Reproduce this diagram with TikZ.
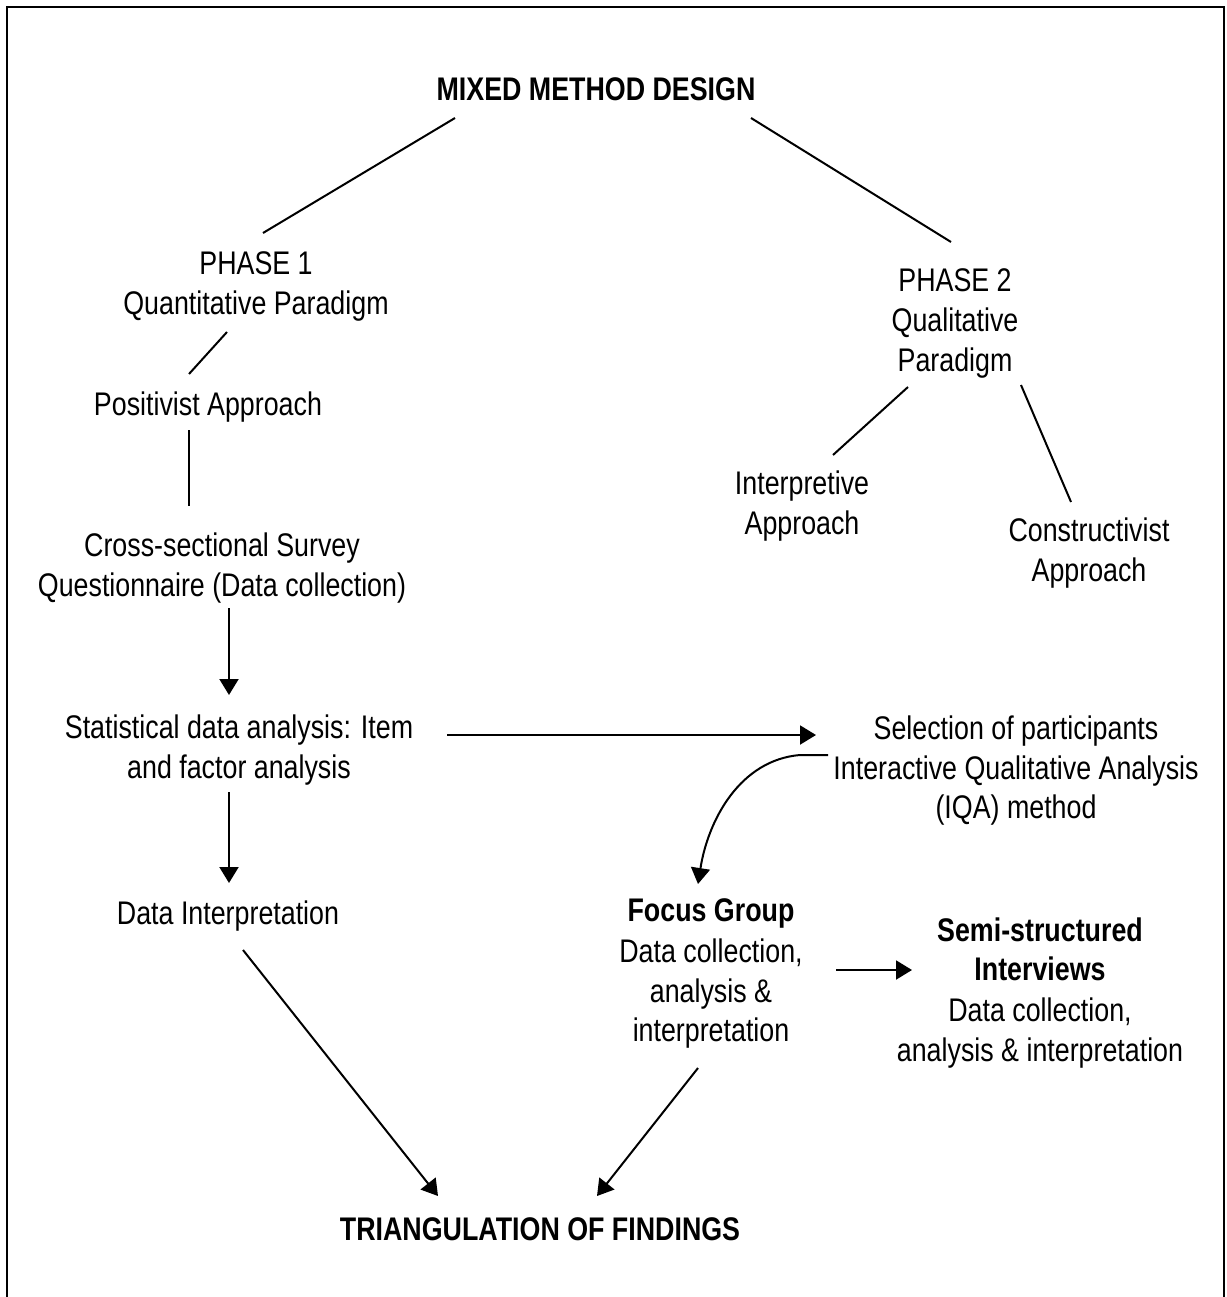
\documentclass[tikz,border=0pt]{standalone}
\usepackage{fontspec}
\setmainfont{Liberation Sans}[FakeStretch=0.82]
\usetikzlibrary{arrows.meta}
\begin{document}
\begin{tikzpicture}[x=1pt,y=-1pt,
  txt/.style={anchor=base,inner sep=0pt,font=\fontsize{32.7}{40}\selectfont},
  hdr/.style={txt,font=\fontsize{32.7}{40}\selectfont\bfseries},
  link/.style={line width=2pt},
  flow/.style={line width=2pt,-{Triangle[length=16pt,width=19pt]}}]
\useasboundingbox (0,0) rectangle (1226,1297);
\draw[line width=2.5pt] (7,1320) -- (7,7) -- (1224,7) -- (1224,1320);

% headings
\node[hdr] (title) at (596,101) {MIXED METHOD DESIGN};
\node[hdr] (tri) at (540,1240) {TRIANGULATION OF FINDINGS};

% quantitative branch
\node[txt] (p1a) at (256,274) {PHASE 1};
\node[txt] (p1b) at (256,314) {Quantitative Paradigm};
\node[txt] (pos) at (208,415) {Positivist Approach};
\node[txt] (csa) at (222,556) {Cross-sectional Survey};
\node[txt] (csb) at (222,596) {Questionnaire (Data collection)};
\node[txt] (sta) at (239,738) {Statistical data analysis: Item};
\node[txt] (stb) at (239,778) {and factor analysis};
\node[txt] (din) at (228,924) {Data Interpretation};

% qualitative branch
\node[txt] (p2a) at (955,291) {PHASE 2};
\node[txt] (p2b) at (955,331) {Qualitative};
\node[txt] (p2c) at (955,371) {Paradigm};
\node[txt] (ina) at (802,494) {Interpretive};
\node[txt] (inb) at (802,534) {Approach};
\node[txt] (coa) at (1089,541) {Constructivist};
\node[txt] (cob) at (1089,581) {Approach};
\node[txt] (sea) at (1016,739) {Selection of participants};
\node[txt] (seb) at (1016,779) {Interactive Qualitative Analysis};
\node[txt] (sec) at (1016,818) {(IQA) method};
\node[hdr] (fga) at (711,921) {Focus Group};
\node[txt] (fgb) at (711,962) {Data collection,};
\node[txt] (fgc) at (711,1002) {analysis \&};
\node[txt] (fgd) at (711,1041) {interpretation};
\node[hdr] (ssa) at (1040,941) {Semi-structured};
\node[hdr] (ssb) at (1040,980) {Interviews};
\node[txt] (ssc) at (1040,1021) {Data collection,};
\node[txt] (ssd) at (1040,1061) {analysis \& interpretation};

% connector end points
\coordinate (t1) at (455,118);  \coordinate (q1) at (263,233);
\coordinate (t2) at (751,118);  \coordinate (q2) at (951,242);
\coordinate (p1s) at (227,332); \coordinate (posn) at (189,374);
\coordinate (poss) at (189,430); \coordinate (csn) at (189,506);
\coordinate (css) at (229,608); \coordinate (stn) at (229,695);
\coordinate (sts) at (229,792); \coordinate (dinn) at (229,883);
\coordinate (dins) at (243,950); \coordinate (trl) at (438,1196);
\coordinate (ste) at (447,735); \coordinate (sew) at (816,735);
\coordinate (p2l) at (908,387); \coordinate (inn) at (833,455);
\coordinate (p2r) at (1021,385); \coordinate (con) at (1071,502);
\coordinate (seo) at (828,755); \coordinate (sek) at (800,755);
\coordinate (fgn) at (698,884);
\coordinate (fge) at (836,970); \coordinate (ssw) at (912,970);
\coordinate (fgs) at (698,1068); \coordinate (trr) at (597,1196);

% connectors
\draw[link] (t1) -- (q1);
\draw[link] (t2) -- (q2);
\draw[link] (p1s) -- (posn);
\draw[link] (poss) -- (csn);
\draw[flow] (css) -- (stn);
\draw[flow] (sts) -- (dinn);
\draw[flow] (dins) -- (trl);
\draw[flow] (ste) -- (sew);
\draw[link] (p2l) -- (inn);
\draw[link] (p2r) -- (con);
\draw[flow] (seo) -- (sek) .. controls (740,760) and (708,820) .. (fgn);
\draw[flow] (fge) -- (ssw);
\draw[flow] (fgs) -- (trr);
\end{tikzpicture}
\end{document}
